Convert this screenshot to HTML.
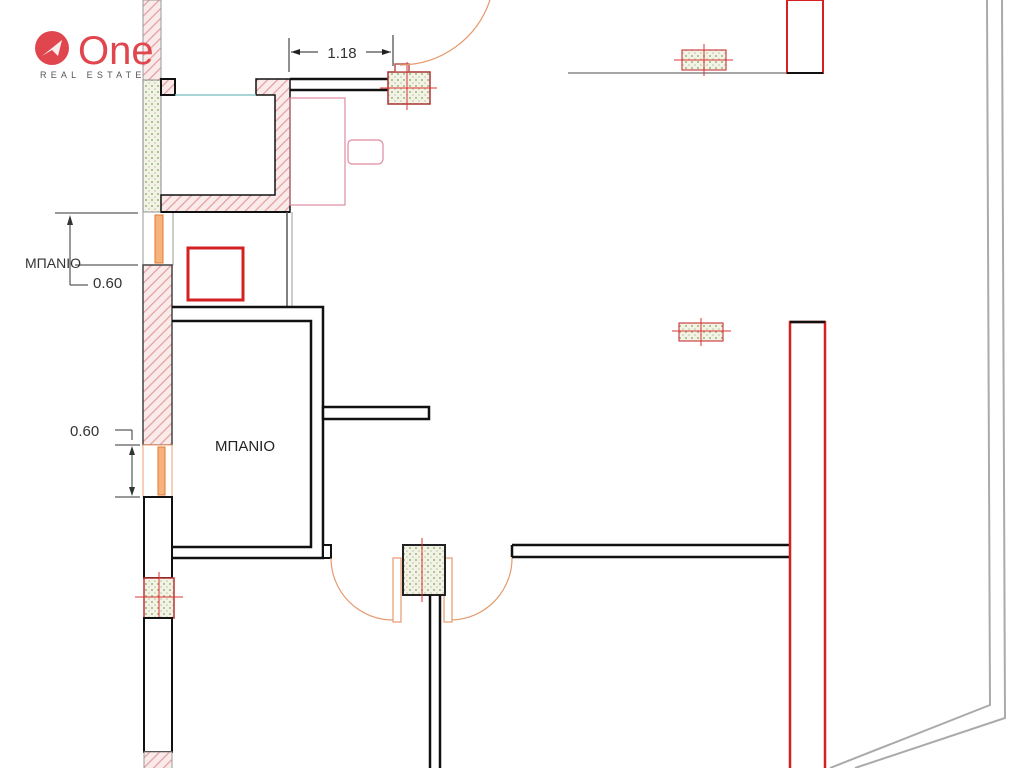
<!DOCTYPE html>
<html><head><meta charset="utf-8"><style>
html,body{margin:0;padding:0;background:#fff;}
svg{display:block}
text{font-family:"Liberation Sans",sans-serif}
</style></head><body>
<svg width="1024" height="768" viewBox="0 0 1024 768" xmlns="http://www.w3.org/2000/svg">
<defs>
<pattern id="h" width="7" height="7" patternUnits="userSpaceOnUse" patternTransform="rotate(45)">
<rect width="7" height="7" fill="#fbeaea"/><line x1="0" y1="0" x2="0" y2="7" stroke="#e2a0a0" stroke-width="2.5"/>
</pattern>
<pattern id="d" width="6" height="6" patternUnits="userSpaceOnUse">
<rect width="6" height="6" fill="#f2f2e6"/><circle cx="2" cy="2" r="1" fill="#9bb57a"/><circle cx="5" cy="5" r="0.8" fill="#b8c79a"/>
</pattern>
</defs>
<rect x="143" y="0" width="18" height="80" fill="url(#h)" stroke="#999" stroke-width="1"/>
<rect x="143" y="80" width="18" height="132" fill="url(#d)" stroke="#888" stroke-width="1"/>
<rect x="143" y="212" width="30" height="53" fill="#fff" stroke="#999" stroke-width="1"/>
<rect x="155" y="215" width="8" height="48" fill="#f6b27a" stroke="#e07b30" stroke-width="1"/>
<rect x="143" y="265" width="29" height="180" fill="url(#h)" stroke="#444" stroke-width="1.5"/>
<rect x="143" y="445" width="29" height="52" fill="#fff" stroke="#f0a070" stroke-width="1"/>
<rect x="158" y="447" width="7" height="48" fill="#f6b27a" stroke="#e07b30" stroke-width="1"/>
<rect x="144" y="497" width="28" height="81" fill="#fff" stroke="#111" stroke-width="2"/>
<rect x="144" y="578" width="30" height="40" fill="url(#d)" stroke="#b33" stroke-width="1.5"/>
<line x1="135" y1="597" x2="183" y2="597" stroke="#d33" stroke-width="1"/>
<line x1="159" y1="572" x2="159" y2="622" stroke="#d33" stroke-width="1"/>
<rect x="144" y="618" width="28" height="134" fill="#fff" stroke="#111" stroke-width="2"/>
<rect x="144" y="752" width="28" height="20" fill="url(#h)" stroke="#999"/>
<path d="M161 79 H175 V95 H161 Z" fill="url(#h)" stroke="#111" stroke-width="2"/>
<path d="M256 79 H290 V212 H161 V195 H275 V95 H256 Z" fill="url(#h)" stroke="#111" stroke-width="1.5"/>
<line x1="175" y1="95" x2="256" y2="95" stroke="#8cc8c8" stroke-width="1.5"/>
<line x1="161" y1="212" x2="290" y2="212" stroke="#111" stroke-width="2"/>
<line x1="290" y1="79" x2="390" y2="79" stroke="#111" stroke-width="2.5"/>
<line x1="290" y1="90" x2="390" y2="90" stroke="#111" stroke-width="2.5"/>
<rect x="388" y="72" width="42" height="32" fill="url(#d)" stroke="#a33" stroke-width="1.5"/>
<rect x="395" y="64" width="14" height="8" fill="#fff" stroke="#b55" stroke-width="1.5"/>
<line x1="407" y1="62" x2="407" y2="110" stroke="#d33"/><line x1="380" y1="88" x2="437" y2="88" stroke="#d33"/>
<path d="M400 65 A95 95 0 0 0 490 0" fill="none" stroke="#e59a6e" stroke-width="1.2"/>
<line x1="289" y1="38" x2="289" y2="72" stroke="#222"/>
<line x1="393" y1="35" x2="393" y2="66" stroke="#222"/>
<line x1="291" y1="52" x2="318" y2="52" stroke="#222"/><path d="M291 52 l9 -3 v6z" fill="#222"/>
<line x1="366" y1="52" x2="391" y2="52" stroke="#222"/><path d="M391 52 l-9 -3 v6z" fill="#222"/>
<text x="342" y="58" font-size="15" text-anchor="middle" fill="#333">1.18</text>
<rect x="290" y="98" width="55" height="107" fill="none" stroke="#e08aa0" stroke-width="1.2"/>
<path d="M352 140 h26 a5 5 0 0 1 5 5 v14 a5 5 0 0 1 -5 5 h-26 a4 4 0 0 1 -4 -4 v-16 a4 4 0 0 1 4 -4z" fill="none" stroke="#e08aa0" stroke-width="1.2"/>
<line x1="287" y1="212" x2="287" y2="307" stroke="#555" stroke-width="1.5"/>
<line x1="292" y1="212" x2="292" y2="307" stroke="#bbb" stroke-width="1.5"/>
<rect x="188" y="248" width="55" height="52" fill="none" stroke="#d42020" stroke-width="3"/>
<path d="M172 307 H323 V558 H172" fill="none" stroke="#111" stroke-width="2.5"/>
<path d="M172 321 H311 V547 H172" fill="none" stroke="#111" stroke-width="2.5"/>
<text x="245" y="451" font-size="15" text-anchor="middle" fill="#222">ΜΠΑΝΙΟ</text>
<rect x="323" y="407" width="106" height="12" fill="#fff" stroke="#111" stroke-width="2.5"/>
<rect x="323" y="545" width="8" height="13" fill="#fff" stroke="#111" stroke-width="2"/>
<path d="M331 558 A62 62 0 0 0 393 620" fill="none" stroke="#e59a6e" stroke-width="1.2"/>
<rect x="393" y="558" width="8" height="64" fill="#fff" stroke="#e59a6e" stroke-width="1.2"/>
<path d="M512 556 A62 62 0 0 1 452 620" fill="none" stroke="#e59a6e" stroke-width="1.2"/>
<rect x="444" y="558" width="8" height="64" fill="#fff" stroke="#e59a6e" stroke-width="1.2"/>
<rect x="403" y="545" width="42" height="50" fill="url(#d)" stroke="#222" stroke-width="2"/>
<line x1="422" y1="538" x2="422" y2="602" stroke="#d33"/>
<line x1="430" y1="595" x2="430" y2="768" stroke="#111" stroke-width="2.5"/>
<line x1="440" y1="595" x2="440" y2="768" stroke="#111" stroke-width="2.5"/>
<line x1="512" y1="545" x2="790" y2="545" stroke="#111" stroke-width="2.5"/>
<line x1="512" y1="557" x2="790" y2="557" stroke="#111" stroke-width="2.5"/>
<line x1="512" y1="545" x2="512" y2="557" stroke="#111" stroke-width="2.5"/>
<line x1="568" y1="73" x2="787" y2="73" stroke="#888" stroke-width="1.5"/>
<rect x="787" y="0" width="36" height="73" fill="none" stroke="#d42020" stroke-width="2"/>
<line x1="787" y1="73" x2="823" y2="73" stroke="#111" stroke-width="2"/>
<rect x="682" y="50" width="44" height="20" fill="url(#d)" stroke="#c44" stroke-width="1.2"/>
<line x1="674" y1="60" x2="733" y2="60" stroke="#d33"/><line x1="704" y1="44" x2="704" y2="76" stroke="#d33"/>
<rect x="679" y="323" width="44" height="18" fill="url(#d)" stroke="#c44" stroke-width="1.2"/>
<line x1="672" y1="331" x2="731" y2="331" stroke="#d33"/><line x1="701" y1="318" x2="701" y2="346" stroke="#d33"/>
<rect x="790" y="322" width="35" height="450" fill="none" stroke="#d42020" stroke-width="2.5"/>
<line x1="790" y1="322" x2="825" y2="322" stroke="#111" stroke-width="2.5"/>
<path d="M987 0 L990 705 L830 768" fill="none" stroke="#aaa" stroke-width="2"/>
<path d="M1002 0 L1005 718 L855 768" fill="none" stroke="#aaa" stroke-width="2"/>
<line x1="55" y1="213" x2="138" y2="213" stroke="#333"/>
<line x1="75" y1="265" x2="138" y2="265" stroke="#333"/>
<line x1="70" y1="218" x2="70" y2="285" stroke="#333"/><path d="M70 215 l-3 10 h6z" fill="#333"/>
<line x1="70" y1="285" x2="88" y2="285" stroke="#333"/>
<text x="25" y="268" font-size="14" fill="#333">ΜΠΑΝΙΟ</text>
<text x="93" y="288" font-size="15" fill="#333">0.60</text>
<text x="70" y="436" font-size="15" fill="#333">0.60</text>
<line x1="115" y1="430" x2="132" y2="430" stroke="#333"/><line x1="132" y1="430" x2="132" y2="440" stroke="#333"/>
<line x1="115" y1="445" x2="140" y2="445" stroke="#333"/>
<line x1="115" y1="497" x2="140" y2="497" stroke="#333"/>
<line x1="132" y1="448" x2="132" y2="494" stroke="#333"/>
<path d="M132 446 l-3 9 h6z M132 496 l-3 -9 h6z" fill="#333"/>
<circle cx="52" cy="48" r="17" fill="#e0464e"/>
<path d="M42 56 L62 40 L58 56 L52 50 Z" fill="#fff" opacity="0.9"/>
<text x="78" y="64" font-size="40" fill="#e0464e">One</text>
<text x="40" y="78" font-size="9" fill="#555" letter-spacing="4.2">REAL ESTATE</text>
</svg>
</body></html>
